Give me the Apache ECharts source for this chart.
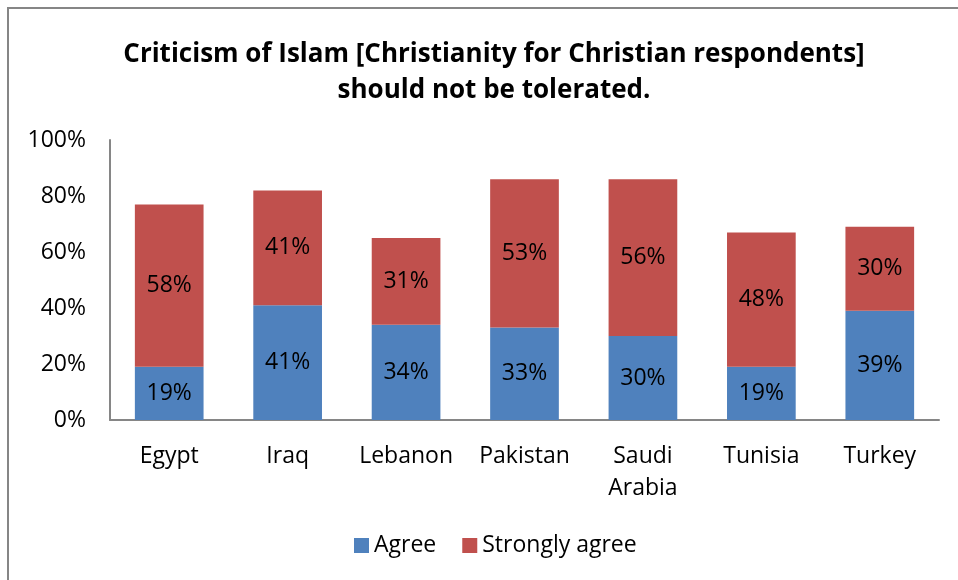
<!DOCTYPE html>
<html><head><meta charset="utf-8">
<script src="https://cdn.jsdelivr.net/npm/echarts@6/dist/echarts.min.js"></script>
<style>html,body{margin:0;padding:0;background:#fff}#c{width:958px;height:580px}</style>
</head><body><div id="c"></div>
<script>
const categories = ['Egypt','Iraq','Lebanon','Pakistan','Saudi\nArabia','Tunisia','Turkey'];
const agree = [19,41,34,33,30,19,39];
const stronglyAgree = [58,41,31,53,56,48,30];
const yTicks = [0,20,40,60,80,100];

const chart = echarts.init(document.getElementById('c'), null, {renderer:'canvas'});
const font = '"Open Sans", sans-serif';
chart.setOption({
  animation:false,
  backgroundColor:'#fff',
  graphic:[{type:'rect',shape:{x:8,y:8,width:960,height:580},style:{fill:'none',stroke:'#868686',lineWidth:2},silent:true}],
  title:{text:'Criticism of Islam [Christianity for Christian respondents]\nshould not be tolerated.',left:489,top:32,textAlign:'center',
    textStyle:{fontFamily:font,fontSize:26,fontWeight:'bold',color:'#000',lineHeight:36}},
  legend:{bottom:18,left:349,itemWidth:15,itemHeight:15,itemGap:26,icon:'rect',
    textStyle:{fontFamily:font,fontSize:23,color:'#000'}},
  grid:{left:110,right:19,top:140,bottom:160},
  xAxis:{type:'category',data:categories,
    axisLine:{lineStyle:{color:'#868686',width:2}},axisTick:{show:false},
    axisLabel:{interval:0,hideOverlap:false,fontFamily:font,fontSize:23,color:'#000',margin:20,lineHeight:32}},
  yAxis:{type:'value',min:0,max:100,interval:20,
    axisLine:{show:true,lineStyle:{color:'#868686',width:2}},axisTick:{show:false},splitLine:{show:false},
    axisLabel:{fontFamily:font,fontSize:23,color:'#000',margin:24,formatter:v=>yTicks.includes(v)?v+'%':''}},
  series:[
    {name:'Agree',type:'bar',stack:'s',data:agree,barWidth:'58%',itemStyle:{color:'#4F81BD'},
      label:{show:true,position:'inside',formatter:'{c}%',fontFamily:font,fontSize:23,color:'#000'}},
    {name:'Strongly agree',type:'bar',stack:'s',data:stronglyAgree,barWidth:'58%',itemStyle:{color:'#C0504D'},
      label:{show:true,position:'inside',formatter:'{c}%',fontFamily:font,fontSize:23,color:'#000'}}
  ]
});
</script></body></html>
